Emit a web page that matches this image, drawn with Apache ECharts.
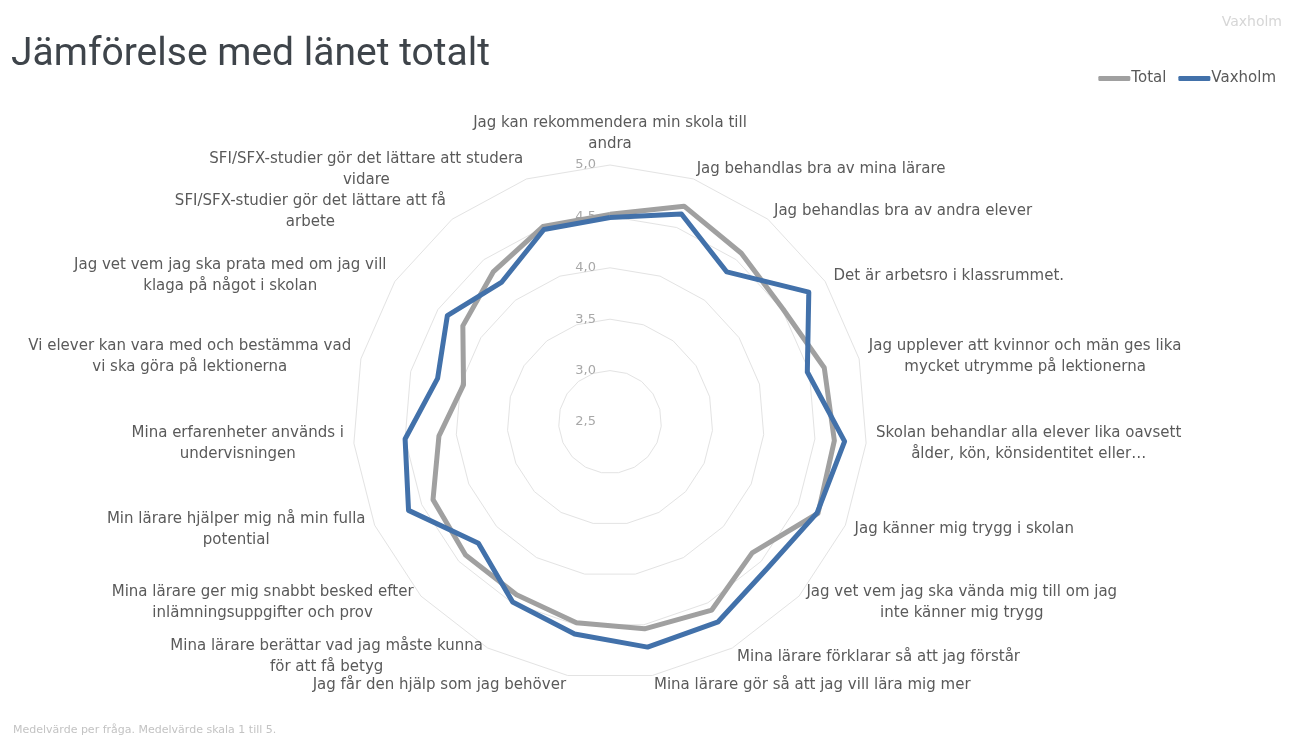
<!DOCTYPE html>
<html>
<head>
<meta charset="utf-8">
<script src="https://cdn.jsdelivr.net/npm/echarts@6/dist/echarts.min.js"></script>
<style>
  html, body { margin: 0; padding: 0; background: #ffffff; }
  #chart { width: 1291px; height: 736px; }
</style>
</head>
<body>
<div id="chart"></div>
<script>
// Questions (clockwise from top), line breaks as in the reference
const categories = [
  "Jag kan rekommendera min skola till\nandra",
  "Jag behandlas bra av mina lärare",
  "Jag behandlas bra av andra elever",
  "Det är arbetsro i klassrummet.",
  "Jag upplever att kvinnor och män ges lika\nmycket utrymme på lektionerna",
  "Skolan behandlar alla elever lika oavsett\nålder, kön, könsidentitet eller…",
  "Jag känner mig trygg i skolan",
  "Jag vet vem jag ska vända mig till om jag\ninte känner mig trygg",
  "Mina lärare förklarar så att jag förstår",
  "Mina lärare gör så att jag vill lära mig mer",
  "Jag får den hjälp som jag behöver",
  "Mina lärare berättar vad jag måste kunna\nför att få betyg",
  "Mina lärare ger mig snabbt besked efter\ninlämningsuppgifter och prov",
  "Min lärare hjälper mig nå min fulla\npotential",
  "Mina erfarenheter används i\nundervisningen",
  "Vi elever kan vara med och bestämma vad\nvi ska göra på lektionerna",
  "Jag vet vem jag ska prata med om jag vill\nklaga på något i skolan",
  "SFI/SFX-studier gör det lättare att få\narbete",
  "SFI/SFX-studier gör det lättare att studera\nvidare"
];
const totalValues   = [4.52, 4.72, 4.58, 4.51, 4.65, 4.69, 4.71, 4.38, 4.58, 4.54, 4.48, 4.41, 4.41, 4.38, 4.17, 3.97, 4.21, 4.35, 4.51];
const vaxholmValues = [4.49, 4.64, 4.35, 4.81, 4.48, 4.79, 4.70, 4.59, 4.71, 4.72, 4.59, 4.49, 4.24, 4.64, 4.50, 4.23, 4.39, 4.22, 4.48];
const seriesNames = ["Total", "Vaxholm"];
const axisMin = 2.5, axisMax = 5.0;

const FONT = "DejaVu Sans";
const chart = echarts.init(document.getElementById('chart'));

// ECharts radar runs counter-clockwise; reorder so the questions run clockwise
const order = [0].concat(categories.map((_, i) => i).slice(1).reverse());
const indicators = order.map((idx, k) => {
  const o = { name: categories[idx], min: axisMin, max: axisMax };
  if (k === 0) o.axisLabel = { show: true };
  return o;
});
const reorder = (arr) => order.map(idx => arr[idx]);

chart.setOption({
  backgroundColor: '#ffffff',
  animation: false,
  title: [
    { text: 'Jämförelse med länet totalt', left: 6, top: 31,
      textStyle: { fontFamily: 'Roboto', fontSize: 39, fontWeight: 'normal', color: '#3e444a' } },
    { text: 'Vaxholm', right: 4, top: 10,
      textStyle: { fontFamily: FONT, fontSize: 14, fontWeight: 'normal', color: '#d6d6d6' } },
    { text: 'Medelvärde per fråga. Medelvärde skala 1 till 5.', left: 8, top: 720,
      textStyle: { fontFamily: FONT, fontSize: 11, fontWeight: 'normal', color: '#c3c3c3' } }
  ],
  legend: {
    right: 10, top: 66,
    icon: 'roundRect', itemWidth: 32, itemHeight: 5, itemGap: 12,
    textStyle: { fontFamily: FONT, fontSize: 15, color: '#595959', padding: [0, 0, 0, -4] },
    data: seriesNames
  },
  radar: {
    center: [610, 422],
    radius: 257,
    shape: 'polygon',
    splitNumber: 5,
    startAngle: 90,
    nameGap: 10,
    axisName: {
      color: '#5a5a5a', fontFamily: FONT, fontSize: 15,
      formatter: (name) => name.split('\n').map(l => '{c|' + l + '}').join('\n'),
      rich: { c: { align: 'center', color: '#5a5a5a', fontFamily: FONT, fontSize: 15, lineHeight: 21 } }
    },
    axisLine: { show: false },
    splitLine: { lineStyle: { color: '#e3e3e3', width: 1 } },
    splitArea: { show: false },
    axisTick: { show: false },
    axisLabel: {
      show: false, color: '#a8a8a8', fontFamily: FONT, fontSize: 13, margin: 14,
      formatter: (v) => Number(v).toFixed(1).replace('.', ',')
    },
    indicator: indicators
  },
  series: [{
    type: 'radar',
    symbol: 'none',
    data: [
      { name: seriesNames[0], value: reorder(totalValues),
        lineStyle: { color: '#a0a0a0', width: 5 }, itemStyle: { color: '#a0a0a0' } },
      { name: seriesNames[1], value: reorder(vaxholmValues),
        lineStyle: { color: '#4271aa', width: 5 }, itemStyle: { color: '#4271aa' } }
    ]
  }]
});
</script>
</body>
</html>
